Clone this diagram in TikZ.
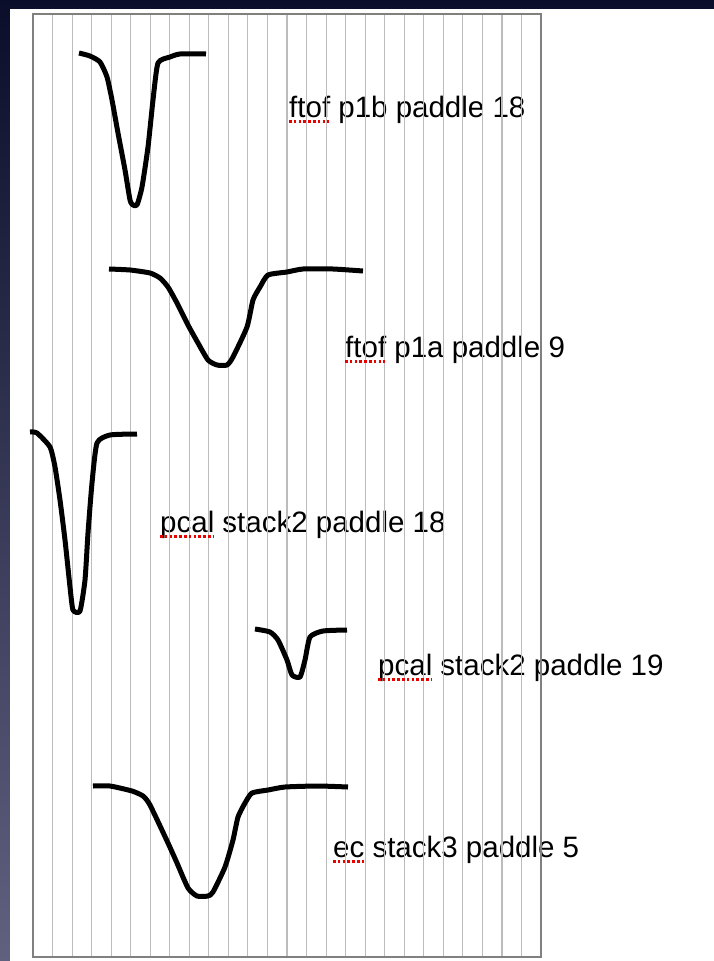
\documentclass[tikz,border=0pt]{standalone}
\usepackage{fontspec}
\setmainfont{Liberation Sans}
\begin{document}
\begin{tikzpicture}[x=1pt,y=-1pt,
  lbl/.style={anchor=base west,inner sep=0pt,font=\fontsize{29.5pt}{34pt}\selectfont},
  gridline/.style={draw={rgb,255:red,188;green,188;blue,188},line width=1.1pt},
  frame/.style={draw={rgb,255:red,128;green,128;blue,128},line width=1.5pt},
  spell/.style={draw={rgb,255:red,235;green,0;blue,0},line width=2.2pt,dash pattern=on 2.6pt off 2.2pt},
  pulse/.style={draw=black,line width=5pt,line join=round,line cap=butt}]
\useasboundingbox (0,0) rectangle (714,961);
% desktop backdrop and page
\shade[top color={rgb,255:red,10;green,14;blue,42},bottom color={rgb,255:red,96;green,97;blue,126}]
  (0,0) rectangle (714,961);
\fill[white] (10,9) rectangle (714,961);

% labels
\node[lbl] (t1) at (289,117) {ftof p1b paddle 18};
\node[lbl] (t2) at (345,357) {ftof p1a paddle 9};
\node[lbl] (t3) at (160,532) {pcal stack2 paddle 18};
\node[lbl] (t4) at (378,675) {pcal stack2 paddle 19};
\node[lbl] (t5) at (333,857) {ec stack3 paddle 5};

% vertical grid
\foreach \k in {1,...,25}
  \draw[gridline] ({33+\k*19.54},14) -- ({33+\k*19.54},957);
\draw[frame] (33,14) rectangle (541,957);

% spelling marks under the labels
\draw[spell] ([yshift=-4.5pt]t1.base west) -- ++(40,0);
\draw[spell] ([yshift=-4.5pt]t2.base west) -- ++(40,0);
\draw[spell] ([yshift=-4.5pt]t3.base west) -- ++(53,0);
\draw[spell] ([yshift=-4.5pt]t4.base west) -- ++(53,0);
\draw[spell] ([yshift=-4.5pt]t5.base west) -- ++(31,0);

% pulses
\draw[pulse] plot[smooth,tension=0.35] coordinates {(79,53) (90,56) (100,62) (107,77) (112,100) (118,133) (125,170) (130,200) (133,205) (137,205) (142,187) (148,147) (153,100) (158,63) (170,57) (180,54) (206,54)};
\draw[pulse] plot[smooth,tension=0.35] coordinates {(109,269) (130,270) (150,273) (160,278) (168,287) (177,303) (188,325) (198,343) (208,360) (217,365) (227,365) (233,357) (247,327) (253,300) (260,287) (268,275) (287,272) (303,269) (333,269) (363,271)};
\draw[pulse] plot[smooth,tension=0.35] coordinates {(30,432) (37,433) (50,447) (55,467) (60,500) (65,540) (70,587) (73,610) (80,611) (85,580) (88,533) (92,483) (97,443) (110,435) (137,434)};
\draw[pulse] plot[smooth,tension=0.35] coordinates {(255,629) (270,632) (278,640) (287,660) (292,675) (300,677) (305,660) (310,637) (323,631) (347,630)};
\draw[pulse] plot[smooth,tension=0.35] coordinates {(93,786) (110,786) (132,791) (143,796) (150,805) (168,843) (177,863) (188,888) (197,896) (208,896) (213,892) (225,867) (233,840) (238,817) (245,803) (252,793) (268,790) (285,787) (318,786) (348,787)};
\end{tikzpicture}
\end{document}
